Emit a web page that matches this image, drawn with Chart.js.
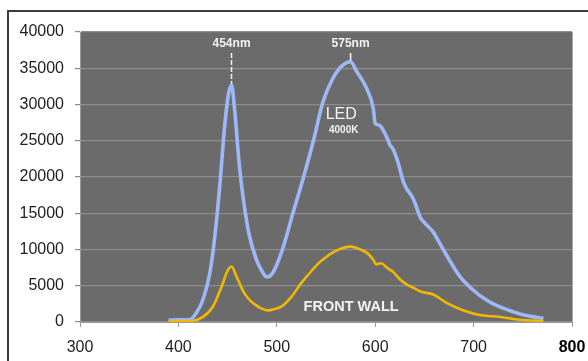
<!DOCTYPE html>
<html>
<head>
<meta charset="utf-8">
<script src="https://cdn.jsdelivr.net/npm/chart.js@4/dist/chart.umd.min.js"></script>
<style>
  html, body { margin: 0; padding: 0; background: #ffffff; overflow: hidden; }
  #frame { position: absolute; left: 7px; top: 10px; width: 700px; height: 500px; border: 2px solid #3d3d3d; }
  #chart { position: absolute; left: 0; top: 0; }
</style>
</head>
<body>
<div id="frame"></div>
<canvas id="chart" width="588" height="361"></canvas>
<script>
// Spectral power of the 4000K LED and of the light reflected by the front wall
const ledNm = [390, 400, 412, 418, 425, 432, 437, 442, 447, 451, 454, 457, 462, 467, 472, 479, 485, 490, 496, 505,
               517, 527, 537, 547, 557, 566, 575, 581, 591, 598, 600, 603, 606, 612, 615, 618, 623, 629, 639, 646,
               650, 659, 665, 673, 686, 703, 710, 720, 734, 750, 771];
const ledCounts = [250, 300, 350, 1200, 3100, 6800, 11800, 18700, 27000, 31500, 32700, 29500, 21500, 16000, 12000, 8700, 7000, 6200, 6800, 9700,
                   15300, 19900, 24900, 30400, 33600, 35300, 35900, 34600, 32300, 29500, 27400, 27200, 26900, 25400, 24400, 23900, 22100, 19200, 16900, 14400,
                   13700, 12400, 11000, 9100, 6300, 4000, 3300, 2500, 1700, 1000, 500];

const wallNm = [390, 415, 425, 435, 444, 450, 454, 459, 466, 472, 478, 484, 491, 498, 505, 515, 525, 535, 545, 559,
                575, 586, 592, 598, 601, 606, 612, 615, 618, 625, 632, 639, 646, 659, 673, 686, 705, 727, 747, 771];
const wallCounts = [80, 180, 700, 2100, 4900, 7100, 7650, 6300, 4200, 3100, 2400, 1900, 1600, 1800, 2150, 3500, 5400, 7000, 8400, 9750,
                    10400, 9950, 9500, 8600, 7950, 8100, 7500, 7200, 6950, 5900, 5200, 4700, 4200, 3800, 2600, 1800, 1000, 690, 320, 140];

const xTicks = [300, 400, 500, 600, 700, 800];
const yTicks = [0, 5000, 10000, 15000, 20000, 25000, 30000, 35000, 40000];

const peakLabels = [{ nm: 454, text: '454nm' }, { nm: 575, text: '575nm' }];

const FONT = '"Liberation Sans", Arial, sans-serif';
const toPoints = (xs, ys) => xs.map((x, i) => ({ x: x, y: ys[i] }));
const peakValue = nm => ledCounts[ledNm.indexOf(nm)];
const isLast = ctx => !!(ctx && ctx.tick && ctx.tick.value === xTicks[xTicks.length - 1]);

const plotBackground = {
  id: 'plotBackground',
  beforeDraw(chart) {
    const { ctx, chartArea: a } = chart;
    ctx.save();
    ctx.fillStyle = '#6b6b6b';
    ctx.fillRect(a.left, a.top, a.right - a.left, a.bottom - a.top);
    ctx.restore();
  },
  afterDraw(chart) {
    const { ctx, chartArea: a } = chart;
    ctx.save();
    ctx.strokeStyle = '#a8a8a8';
    ctx.lineWidth = 1;
    ctx.beginPath();
    ctx.moveTo(a.right + 0.5, a.top);
    ctx.lineTo(a.right + 0.5, a.bottom);
    ctx.stroke();
    ctx.restore();
  }
};

const annotations = {
  id: 'annotations',
  afterDatasetsDraw(chart) {
    const { ctx, chartArea: a, scales: { x, y } } = chart;
    ctx.save();
    ctx.fillStyle = '#f2f2f2';
    ctx.strokeStyle = '#f2f2f2';
    ctx.textAlign = 'center';
    ctx.textBaseline = 'middle';
    ctx.font = 'bold 12px ' + FONT;
    peakLabels.forEach((p, i) => {
      const px = x.getPixelForValue(p.nm);
      ctx.fillText(p.text, px, a.top + 12);
      const yEnd = y.getPixelForValue(peakValue(p.nm)) - 1;
      ctx.lineWidth = 1.5;
      ctx.setLineDash(i === 0 ? [5, 2] : []);
      ctx.beginPath();
      ctx.moveTo(px, a.top + 21);
      ctx.lineTo(px, yEnd);
      ctx.stroke();
    });
    ctx.setLineDash([]);
    ctx.font = '16px ' + FONT;
    ctx.fillText('LED', x.getPixelForValue(565.5), y.getPixelForValue(28650));
    ctx.font = 'bold 10px ' + FONT;
    ctx.fillText('4000K', x.getPixelForValue(568), y.getPixelForValue(26450));
    ctx.font = 'bold 14.5px ' + FONT;
    ctx.fillText('FRONT WALL', x.getPixelForValue(575.5), y.getPixelForValue(2100));
    ctx.restore();
  }
};

new Chart(document.getElementById('chart'), {
  type: 'line',
  data: {
    datasets: [
      {
        label: 'FRONT WALL',
        data: toPoints(wallNm, wallCounts),
        borderColor: '#f2b705',
        borderWidth: 2.6,
        pointRadius: 0,
        cubicInterpolationMode: 'monotone',
        fill: false
      },
      {
        label: 'LED 4000K',
        data: toPoints(ledNm, ledCounts),
        borderColor: '#9db8f8',
        borderWidth: 3.6,
        pointRadius: 0,
        cubicInterpolationMode: 'monotone',
        fill: false
      }
    ]
  },
  options: {
    responsive: false,
    animation: false,
    devicePixelRatio: 1,
    layout: { padding: { left: 0, top: 32, right: 16, bottom: 0 } },
    plugins: { legend: { display: false }, tooltip: { enabled: false } },
    scales: {
      x: {
        type: 'linear',
        min: 300,
        max: 800,
        afterBuildTicks: s => { s.ticks = xTicks.map(v => ({ value: v })); },
        afterFit: s => { s.height = 39; s.paddingLeft = 0; s.paddingRight = 0; },
        grid: { drawOnChartArea: false, drawTicks: true, tickLength: 5, tickColor: '#9a9a9a' },
        border: { display: true, color: '#9a9a9a', width: 1 },
        ticks: {
          padding: 11,
          maxRotation: 0,
          color: ctx => isLast(ctx) ? '#000000' : '#1e1e1e',
          font: ctx => isLast(ctx)
            ? { family: FONT, size: 16, weight: 'bold' }
            : { family: FONT, size: 16 },
          callback: v => String(v)
        }
      },
      y: {
        min: 0,
        max: 40000,
        afterBuildTicks: s => { s.ticks = yTicks.map(v => ({ value: v })); },
        afterFit: s => { s.width = 80; s.paddingTop = 0; s.paddingBottom = 0; },
        grid: { color: '#8d8d8d', lineWidth: 1.2, drawTicks: true, tickLength: 5, tickColor: '#8a8a8a' },
        border: { display: true, color: '#9a9a9a', width: 1 },
        ticks: {
          padding: 11,
          color: '#1e1e1e',
          font: { family: FONT, size: 16 },
          callback: v => String(v)
        }
      }
    }
  },
  plugins: [plotBackground, annotations]
});
</script>
</body>
</html>
